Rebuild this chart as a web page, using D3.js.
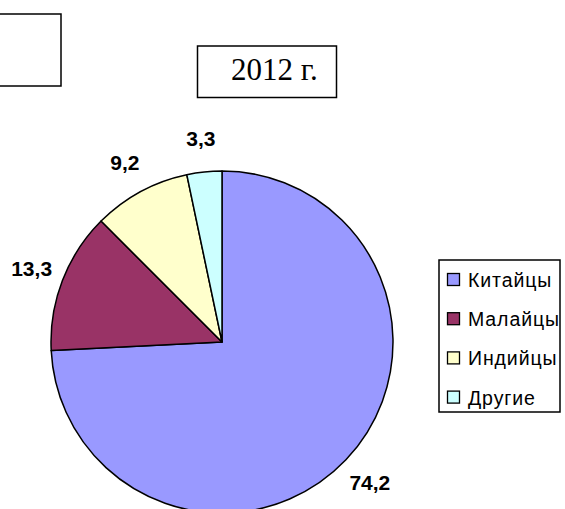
<!DOCTYPE html>
<html><head><meta charset="utf-8">
<script src="https://cdn.jsdelivr.net/npm/d3@7"></script>
<style>html,body{margin:0;padding:0;background:#fff;}</style>
</head><body>
<script>
const categories = ["Китайцы", "Малайцы", "Индийцы", "Другие"];
const values = [74.2, 13.3, 9.2, 3.3];
const labels = ["74,2", "13,3", "9,2", "3,3"];
const colors = ["#9999FF", "#993366", "#FFFFCC", "#CCFFFF"];
const title = "2012 г.";

const W = 565, H = 509;
const svg = d3.select("body").append("svg").attr("width", W).attr("height", H);

// left empty box (partially off-canvas)
svg.append("rect").attr("x", -20).attr("y", 14).attr("width", 81).attr("height", 72)
  .attr("fill", "#fff").attr("stroke", "#000").attr("stroke-width", 1.5);

// title box
svg.append("rect").attr("x", 197.5).attr("y", 46).attr("width", 139).attr("height", 51.5)
  .attr("fill", "#fff").attr("stroke", "#000").attr("stroke-width", 1.5);
svg.append("text").attr("x", 231).attr("y", 80).attr("text-anchor", "start")
  .attr("font-family", "'Liberation Serif','Times New Roman',serif").attr("font-size", 31)
  .text(title);

const cx = 222, cy = 342, r = 171;
const data = categories.map((c, i) => ({c, v: values[i], l: labels[i], col: colors[i]}));
const pie = d3.pie().value(d => d.v).sort(null);
const arc = d3.arc().innerRadius(0).outerRadius(r);
const labelArc = d3.arc().innerRadius(204).outerRadius(204);
const g = svg.append("g").attr("transform", `translate(${cx},${cy})`);
const arcs = pie(data);
g.selectAll("path").data(arcs).join("path")
  .attr("d", arc).attr("fill", d => d.data.col)
  .attr("stroke", "#000").attr("stroke-width", 1.5).attr("stroke-linejoin", "round");
g.selectAll("text").data(arcs).join("text")
  .attr("transform", d => `translate(${labelArc.centroid(d)})`)
  .attr("text-anchor", "middle").attr("dy", "0.33em")
  .attr("font-family", "'Liberation Sans',Arial,sans-serif").attr("font-weight", "bold")
  .attr("font-size", 21).text(d => d.data.l);

// legend
const lg = svg.append("g");
lg.append("rect").attr("x", 439).attr("y", 260).attr("width", 121).attr("height", 152)
  .attr("fill", "#fff").attr("stroke", "#000").attr("stroke-width", 1.5);
const items = lg.selectAll("g.item").data(data).join("g").attr("class", "item")
  .attr("transform", (d, i) => `translate(447.5,${273.5 + i * 39.2})`);
items.append("rect").attr("x", 0).attr("y", 0).attr("width", 12).attr("height", 12)
  .attr("fill", d => d.col).attr("stroke", "#000").attr("stroke-width", 1.3);
items.append("text").attr("x", 20.5).attr("y", 13.5)
  .attr("font-family", "'Liberation Sans',Arial,sans-serif").attr("font-size", 19.5)
  .attr("letter-spacing", 0.9)
  .text(d => d.c);
</script>
</body></html>
